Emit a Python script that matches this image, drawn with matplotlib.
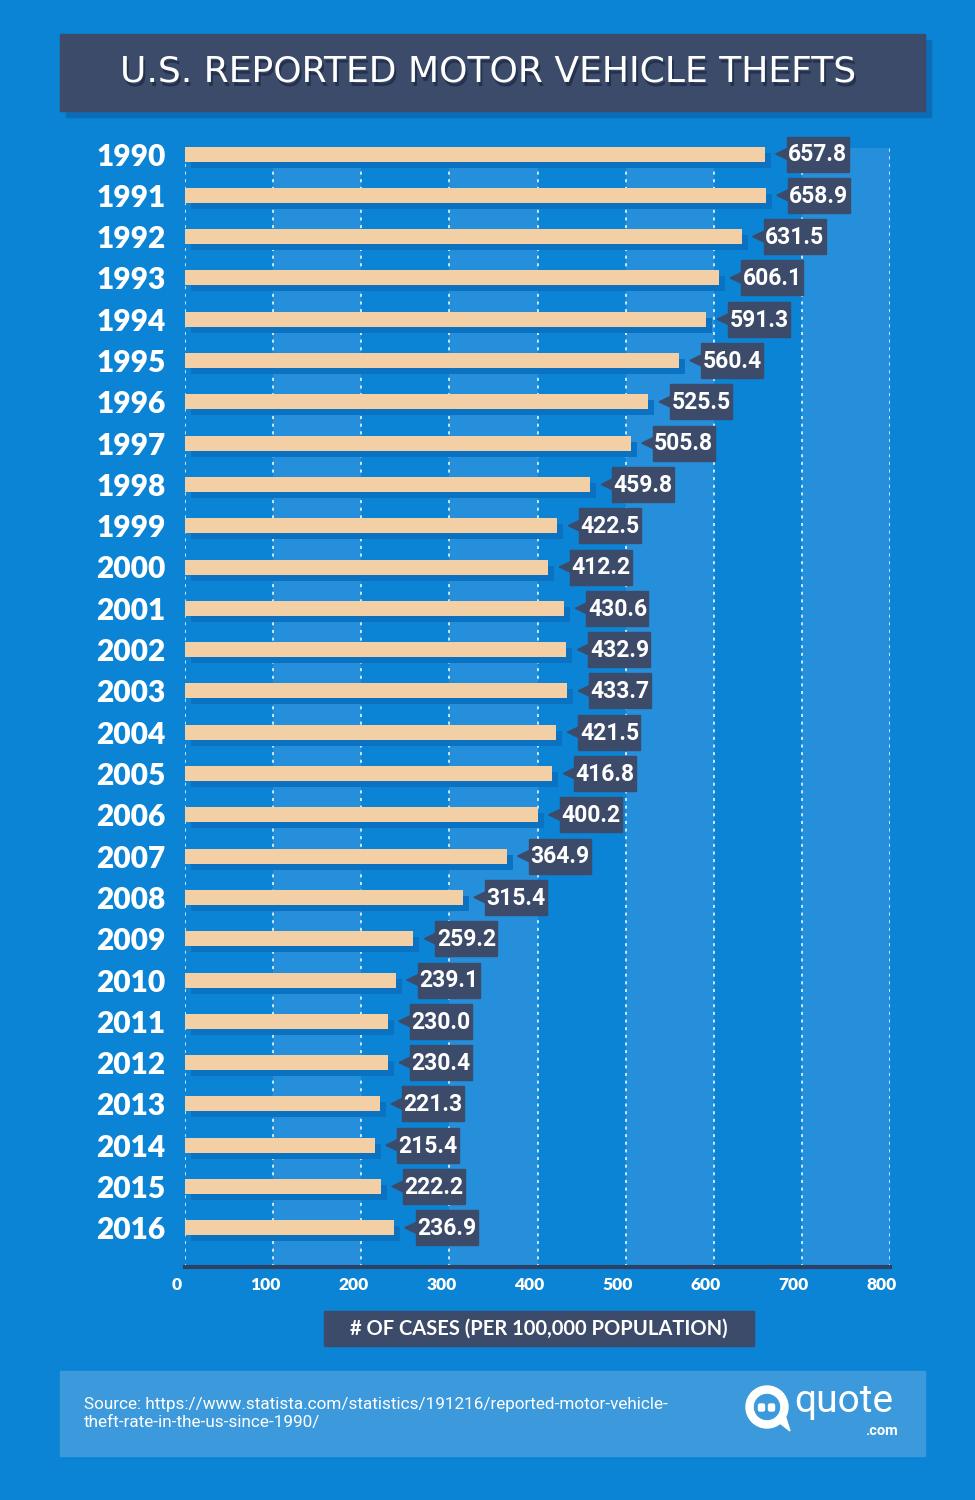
import matplotlib
matplotlib.use("Agg")
import matplotlib.pyplot as plt
import matplotlib.transforms as mtransforms
from matplotlib.patches import Rectangle, Polygon, Circle, FancyBboxPatch

# ---------------- data ----------------
years = ["1990", "1991", "1992", "1993", "1994", "1995", "1996", "1997", "1998",
         "1999", "2000", "2001", "2002", "2003", "2004", "2005", "2006", "2007",
         "2008", "2009", "2010", "2011", "2012", "2013", "2014", "2015", "2016"]
thefts = [657.8, 658.9, 631.5, 606.1, 591.3, 560.4, 525.5, 505.8, 459.8,
          422.5, 412.2, 430.6, 432.9, 433.7, 421.5, 416.8, 400.2, 364.9,
          315.4, 259.2, 239.1, 230.0, 230.4, 221.3, 215.4, 222.2, 236.9]
x_ticks = [0, 100, 200, 300, 400, 500, 600, 700, 800]
title = "U.S. REPORTED MOTOR VEHICLE THEFTS"
x_label = "# OF CASES (PER 100,000 POPULATION)"
source = ("Source: https://www.statista.com/statistics/191216/reported-motor-vehicle-\n"
          "theft-rate-in-the-us-since-1990/")

# ---------------- style ----------------
BG = "#0B84D5"
BAND = "#268FDB"
NAVY = "#3D4B6A"
BAR = "#F3CFA5"
BAR_SHADOW = "#0A72C0"
FOOTER = "#3C99DB"
W, H = 975, 1500
DPI = 100
HEAVY = ["Lato", "DejaVu Sans"]
NARROW = ["Roboto", "DejaVu Sans"]

fig = plt.figure(figsize=(W / DPI, H / DPI), dpi=DPI)
fig.patch.set_facecolor(BG)

# overlay axes in pixel coordinates for decorations
deco = fig.add_axes([0, 0, 1, 1])
deco.set_xlim(0, W)
deco.set_ylim(H, 0)
deco.axis("off")
deco.set_zorder(0)

# ---- title box ----
deco.add_patch(Rectangle((66, 40), 865, 77, color="#0A6DB6", zorder=1))
deco.add_patch(Rectangle((60, 34), 865, 77, color=NAVY, zorder=2))
deco.text(490, 75, title, ha="center", va="center", color="#24324F",
          fontsize=26, family=["DejaVu Sans"], zorder=3)
deco.text(488, 72, title, ha="center", va="center", color="white",
          fontsize=26, family=["DejaVu Sans"], zorder=4)

# ---- main axes ----
px_left, px_right = 185, 890
px_top, px_bottom = 140, 1267
row0_px, row_step = 154, 41.3
ax = fig.add_axes([px_left / W, 1 - px_bottom / H,
                   (px_right - px_left) / W, (px_bottom - px_top) / H])
ax.set_facecolor("none")
ax.set_zorder(2)
n = len(years)
y_pos = list(range(n))
ax.set_xlim(0, 800)
ax.set_ylim((px_bottom - row0_px) / row_step, (px_top - row0_px) / row_step)

band_frac = (px_bottom - 148) / (px_bottom - px_top)
for a in (100, 300, 500, 700):
    ax.axvspan(a, a + 100, ymin=0, ymax=band_frac, color=BAND, lw=0, zorder=0)
for t in x_ticks:
    ax.axvline(t, ymin=0, ymax=band_frac, color="white", lw=1.1,
               ls=(0, (2, 3)), zorder=1)

bar_h = 15 / row_step
shadow_tr = ax.transData + mtransforms.ScaledTranslation(6 / DPI, -6 / DPI, fig.dpi_scale_trans)
ax.barh(y_pos, thefts, height=bar_h, color=BAR_SHADOW, transform=shadow_tr, zorder=2)
ax.barh(y_pos, thefts, height=bar_h, color=BAR, zorder=3)

# value labels
ppx = (px_right - px_left) / 800.0   # pixels per data unit (x)
box_w = 62 / ppx
box_h = 35 / row_step
tip_off = 11 / ppx
box_off = 22 / ppx
tri_half = 5.5 / row_step
for y, v in zip(y_pos, thefts):
    x0 = v + box_off
    ax.add_patch(Rectangle((x0, y - box_h / 2), box_w, box_h, color=NAVY,
                           zorder=5, clip_on=False))
    ax.add_patch(Polygon([(v + tip_off, y), (x0 + 0.5, y - tri_half), (x0 + 0.5, y + tri_half)],
                         closed=True, color=NAVY, zorder=5, clip_on=False))
    ax.text(x0 + box_w / 2, y + 0.02, f"{v:.1f}", ha="center", va="center",
            color="white", fontsize=16.5, fontweight="bold", family=NARROW,
            zorder=6, clip_on=False)

# axes styling
for s in ("top", "right", "left"):
    ax.spines[s].set_visible(False)
ax.spines["bottom"].set_color("#2D4166")
ax.spines["bottom"].set_linewidth(3)
ax.set_xticks(x_ticks)
ax.set_xticklabels([])
# x tick labels, drawn slightly left of their gridlines as in the original
tick_tr = mtransforms.blended_transform_factory(ax.transData, ax.transAxes) + \
    mtransforms.ScaledTranslation(-8 / DPI, -18 / DPI, fig.dpi_scale_trans)
for t in x_ticks:
    ax.text(t, 0, str(t), transform=tick_tr, ha="center", va="center",
            color="white", fontsize=12.5, fontweight="heavy", family=HEAVY,
            clip_on=False)
ax.set_yticks(y_pos)
ax.set_yticklabels(years, color="white", fontsize=21.5, fontweight="heavy",
                   family=HEAVY)
ax.tick_params(axis="x", length=0, pad=8)
ax.tick_params(axis="y", length=0, pad=14)

# ---- x label box ----
deco.add_patch(Rectangle((324, 1311), 430, 35, color=NAVY, zorder=2))
deco.text(539, 1329, x_label, ha="center", va="center", color="white",
          fontsize=14.5, fontweight="bold", family=HEAVY, zorder=3)

# ---- footer ----
deco.add_patch(Rectangle((60, 1371), 865, 85, color=FOOTER, zorder=1))
deco.text(84, 1413.5, source, ha="left", va="center", color="white",
          fontsize=12.3, family=["Roboto", "DejaVu Sans"], linespacing=1.3, zorder=3)

# logo
deco.add_patch(Circle((767, 1407), 21, color="white", zorder=3))
deco.add_patch(Polygon([(776, 1420), (790, 1431), (784, 1412)], closed=True,
                       color="white", zorder=3))
deco.add_patch(Circle((767, 1407), 12.5, color=FOOTER, zorder=4))
deco.add_patch(FancyBboxPatch((758.5, 1404), 6, 7, boxstyle="round,pad=0,rounding_size=1.5",
                              color="white", zorder=5))
deco.add_patch(FancyBboxPatch((768.5, 1404), 6, 7, boxstyle="round,pad=0,rounding_size=1.5",
                              color="white", zorder=5))
deco.text(844, 1401, "quote", ha="center", va="center", color="white",
          fontsize=28, family=["Roboto", "DejaVu Sans"], zorder=5)
deco.text(898, 1431, ".com", ha="right", va="center", color="white",
          fontsize=10.5, fontweight="bold", family=["Roboto", "DejaVu Sans"], zorder=5)

fig.savefig("out.png", dpi=DPI, facecolor=fig.get_facecolor())
